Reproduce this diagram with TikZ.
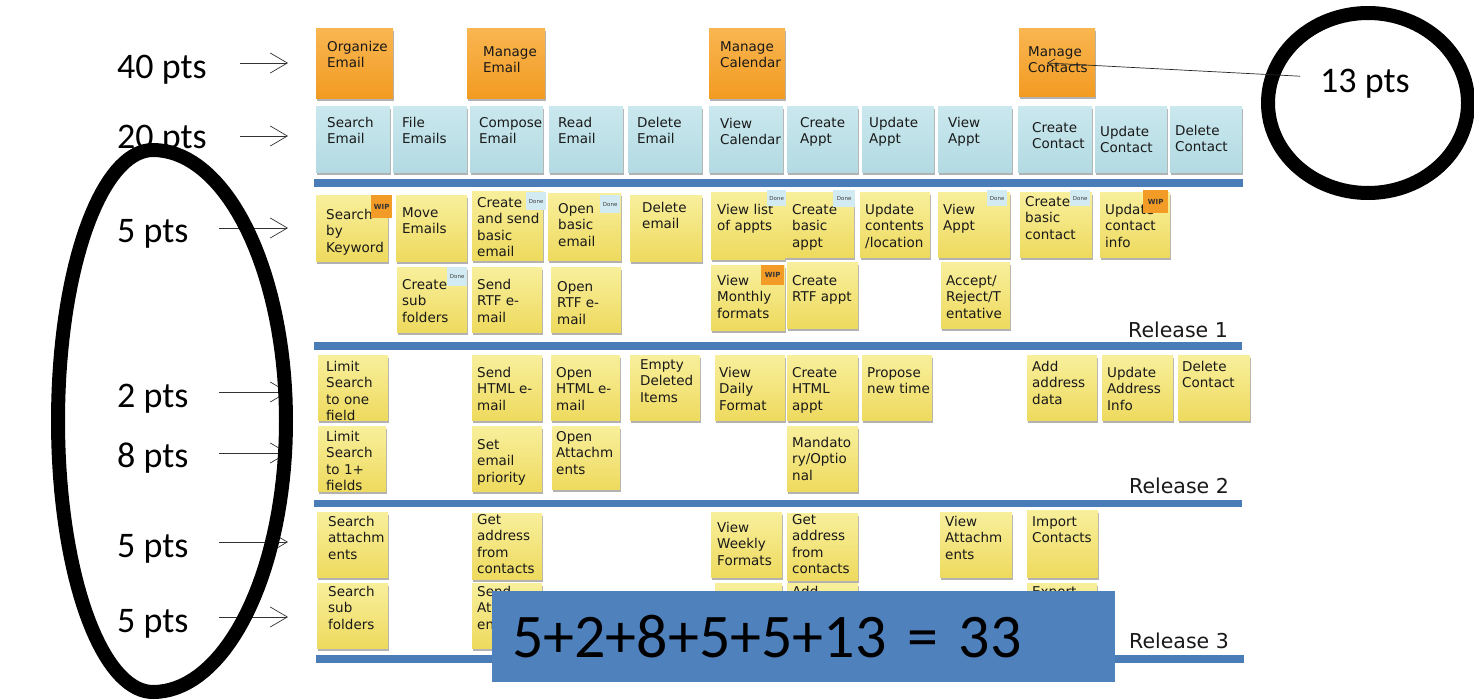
\documentclass[tikz,border=0pt]{standalone}
\usepackage{fontspec}
\newfontfamily\notefont{DejaVu Sans}
\newfontfamily\calfont{Carlito}
\usetikzlibrary{arrows.meta,shadows}
\definecolor{orgtop}{HTML}{F9B651}
\definecolor{orgbot}{HTML}{F29B22}
\definecolor{blutop}{HTML}{CAE8EE}
\definecolor{blubot}{HTML}{B3DAE2}
\definecolor{yeltop}{HTML}{F8EF9C}
\definecolor{yelbot}{HTML}{EEDA5E}
\definecolor{wipc}{HTML}{F29B26}
\definecolor{donec}{HTML}{D2EAF2}
\definecolor{barc}{HTML}{4A7CB8}
\definecolor{boxc}{HTML}{4F81BD}
\tikzset{
  notebase/.style={draw=none, inner sep=0pt, anchor=north west,
    drop shadow={shadow xshift=0.5pt, shadow yshift=-2.5pt, opacity=0.3, fill=black}},
  orangenote/.style={notebase, top color=orgtop, bottom color=orgbot},
  bluenote/.style={notebase, top color=blutop, bottom color=blubot},
  yellownote/.style={notebase, top color=yeltop, bottom color=yelbot},
  notetext/.style={font=\notefont\fontsize{13.5}{16.5}\selectfont, align=left,
    inner sep=0pt, anchor=north west, text=black!90},
  wiptag/.style={fill=wipc, inner sep=0pt, anchor=north west,
    font=\notefont\bfseries\fontsize{7}{7}\selectfont, text=black!80},
  donetag/.style={fill=donec, inner sep=0pt, anchor=north west,
    font=\notefont\fontsize{5.5}{5.5}\selectfont, text=black!75},
  relbar/.style={fill=barc, draw=none},
  rellabel/.style={font=\notefont\fontsize{20.5}{22}\selectfont, inner sep=0pt,
    anchor=base west, text=black!90},
  ptlabel/.style={font=\calfont\fontsize{36}{40}\selectfont, inner sep=0pt,
    anchor=base west, text=black},
  ptarrow/.style={draw=black!80, line width=0.7pt,
    -{Straight Barb[length=17pt, width=20pt, line width=0.7pt]}},
  ring/.style={draw=black, line width=14pt, line join=round},
  sumbox/.style={fill=boxc, draw=none, inner xsep=20pt, inner ysep=0pt, anchor=north west,
    text width=583pt, minimum height=91pt, align=left,
    font=\calfont\fontsize{62}{66}\selectfont, text=black},
}
% name, style, x1, y1, x2, y2, text x, text top y, text
\newcommand\snote[9]{%
  \node[#2, minimum width={#5-#3}, minimum height={#6-#4}] (#1) at (#3,#4) {};
  \node[notetext] (#1t) at (#7,#8) {#9};
}
% name, style, x1, y1, x2, y2, text
\newcommand\stagbox[7]{%
  \node[#2, minimum width={#5-#3}, minimum height={#6-#4}] (#1) at (#3,#4) {#7};
}
\begin{document}
\begin{tikzpicture}[x=1pt, y=-1pt]
\useasboundingbox (0,0) rectangle (1474,699);
\fill[white] (0,0) rectangle (1474,699);
\clip (0,0) rectangle (1474,699);

% ---------- top (orange) row ----------
\snote{oe}{orangenote}{316}{28}{393}{98}{327}{41}{Organize\\Email}
\snote{me}{orangenote}{467}{28}{545}{98}{483}{46}{Manage\\Email}
\snote{mca}{orangenote}{709}{28}{785}{98}{720}{41}{Manage\\Calendar}
\snote{mco}{orangenote}{1019}{28}{1095}{96}{1028}{46}{Manage\\Contacts}

% ---------- blue row ----------
\snote{b1}{bluenote}{316}{106}{390}{172}{327}{117}{Search\\Email}
\snote{b2}{bluenote}{393}{106}{467}{172}{402}{117}{File\\Emails}
\snote{b3}{bluenote}{470}{106}{543}{172}{479}{117}{Compose\\Email}
\snote{b4}{bluenote}{549}{106}{623}{172}{558}{117}{Read\\Email}
\snote{b5}{bluenote}{628}{106}{702}{172}{637}{117}{Delete\\Email}
\snote{b6}{bluenote}{709}{106}{783}{172}{720}{118}{View\\Calendar}
\snote{b7}{bluenote}{787}{106}{858}{172}{800}{117}{Create\\Appt}
\snote{b8}{bluenote}{862}{106}{934}{172}{869}{117}{Update\\Appt}
\snote{b9}{bluenote}{938}{106}{1012}{172}{948}{117}{View\\Appt}
\snote{b10}{bluenote}{1018}{106}{1092}{172}{1032}{122}{Create\\Contact}
\snote{b11}{bluenote}{1095}{106}{1167}{172}{1100}{126}{Update\\Contact}
\snote{b12}{bluenote}{1170}{106}{1242}{172}{1175}{125}{Delete\\Contact}

\fill[relbar] (314,179) rectangle (1243,187);

% ---------- release 1 ----------
\snote{y1}{yellownote}{316}{195}{388}{261}{326}{209}{Search\\by\\Keyword}
\snote{y2}{yellownote}{396}{195}{467}{261}{402}{207}{Move\\Emails}
\snote{y3}{yellownote}{472}{191}{543}{260}{477}{197}{Create\\and send\\basic\\email}
\snote{y4}{yellownote}{548}{193}{621}{260}{558}{203}{Open\\basic\\email}
\snote{y5}{yellownote}{630}{195}{702}{261}{642}{202}{Delete\\email}
\snote{y6}{yellownote}{711}{192}{785}{259}{717}{204}{View list\\of appts}
\snote{y7}{yellownote}{785}{192}{854}{257}{792}{204}{Create\\basic\\appt}
\snote{y8}{yellownote}{860}{192}{930}{257}{865}{204}{Update\\contents\\/location}
\snote{y9}{yellownote}{938}{192}{1010}{257}{943}{204}{View\\Appt}
\snote{y10}{yellownote}{1020}{192}{1092}{257}{1025}{196}{Create\\basic\\contact}
\snote{y11}{yellownote}{1100}{192}{1170}{257}{1105}{204}{Update\\contact\\info}
\stagbox{t1}{wiptag}{371}{195}{392}{218}{WIP}
\stagbox{t2}{donetag}{526}{192}{546}{210}{Done}
\stagbox{t3}{donetag}{600}{195}{620}{213}{Done}
\stagbox{t4}{donetag}{767}{190}{786}{206}{Done}
\stagbox{t5}{donetag}{833}{190}{855}{207}{Done}
\stagbox{t6}{donetag}{987}{190}{1007}{206}{Done}
\stagbox{t7}{donetag}{1070}{190}{1090}{206}{Done}
\stagbox{t8}{wiptag}{1143}{190}{1168}{213}{WIP}

\snote{y12}{yellownote}{397}{267}{467}{332}{402}{279}{Create\\sub\\folders}
\snote{y13}{yellownote}{472}{267}{542}{332}{477}{279}{Send\\RTF e-\\mail}
\snote{y14}{yellownote}{551}{267}{621}{332}{557}{281}{Open\\RTF e-\\mail}
\snote{y15}{yellownote}{711}{265}{785}{330}{717}{275}{View\\Monthly\\formats}
\snote{y16}{yellownote}{787}{262}{858}{328}{792}{275}{Create\\RTF appt}
\snote{y17}{yellownote}{941}{262}{1010}{328}{946}{275}{Accept/\\Reject/T\\entative}
\stagbox{t9}{donetag}{447}{267}{467}{286}{Done}
\stagbox{t10}{wiptag}{761}{265}{784}{285}{WIP}

\node[rellabel] (r1) at (1128,337) {Release 1};
\fill[relbar] (314,342) rectangle (1242,350);

% ---------- release 2 ----------
\snote{z1}{yellownote}{318}{355}{388}{420}{326}{361}{Limit\\Search\\to one\\field}
\snote{z2}{yellownote}{472}{355}{542}{420}{477}{367}{Send\\HTML e-\\mail}
\snote{z3}{yellownote}{551}{355}{620}{420}{556}{367}{Open\\HTML e-\\mail}
\snote{z4}{yellownote}{630}{355}{700}{420}{640}{359}{Empty\\Deleted\\Items}
\snote{z5}{yellownote}{715}{355}{785}{420}{719}{367}{View\\Daily\\Format}
\snote{z6}{yellownote}{787}{355}{858}{420}{792}{367}{Create\\HTML\\appt}
\snote{z7}{yellownote}{862}{355}{932}{420}{867}{367}{Propose\\new time}
\snote{z8}{yellownote}{1027}{355}{1097}{420}{1032}{361}{Add\\address\\data}
\snote{z9}{yellownote}{1102}{355}{1173}{420}{1107}{367}{Update\\Address\\Info}
\snote{z10}{yellownote}{1178}{355}{1250}{420}{1182}{361}{Delete\\Contact}

\snote{z11}{yellownote}{318}{426}{386}{491}{326}{431}{Limit\\Search\\to 1+\\fields}
\snote{z12}{yellownote}{472}{426}{542}{491}{477}{439}{Set\\email\\priority}
\snote{z13}{yellownote}{552}{426}{620}{489}{556}{431}{Open\\Attachm\\ents}
\snote{z14}{yellownote}{787}{426}{858}{491}{792}{437}{Mandato\\ry/Optio\\nal}

\node[rellabel] (r2) at (1129,493) {Release 2};
\fill[relbar] (314,500) rectangle (1242,507);

% ---------- release 3 ----------
\snote{w1}{yellownote}{317}{512}{388}{577}{328}{516}{Search\\attachm\\ents}
\snote{w2}{yellownote}{472}{513}{542}{579}{477}{514}{Get\\address\\from\\contacts}
\snote{w3}{yellownote}{711}{512}{782}{577}{717}{522}{View\\Weekly\\Formats}
\snote{w4}{yellownote}{787}{513}{858}{580}{792}{514}{Get\\address\\from\\contacts}
\snote{w5}{yellownote}{940}{512}{1012}{577}{945}{516}{View\\Attachm\\ents}
\snote{w6}{yellownote}{1027}{510}{1098}{577}{1032}{516}{Import\\Contacts}

\snote{w7}{yellownote}{317}{583}{388}{648}{328}{586}{Search\\sub\\folders}
\snote{w8}{yellownote}{472}{583}{542}{648}{477}{586}{Send\\Attachm\\ents}
\snote{w9}{yellownote}{715}{583}{782}{648}{717}{586}{}
\snote{w10}{yellownote}{787}{583}{858}{648}{792}{586}{Add}
\snote{w11}{yellownote}{1027}{583}{1097}{648}{1032}{586}{Export}

\node[rellabel] (r3) at (1129,648) {Release 3};
\fill[relbar] (316,655) rectangle (1244,663);

% ---------- point labels and arrows ----------
\node[ptlabel] (l40) at (117,78) {40 pts};
\node[ptlabel] (l20) at (117,148) {20 pts};
\node[ptlabel] (l5a) at (117,242) {5 pts};
\node[ptlabel] (l2) at (117,407) {2 pts};
\node[ptlabel] (l8) at (117,467) {8 pts};
\node[ptlabel] (l5b) at (117,557) {5 pts};
\node[ptlabel] (l5c) at (117,632) {5 pts};

\coordinate (s40) at (240,63);  \coordinate (e40) at (288,63);
\coordinate (s20) at (240,136); \coordinate (e20) at (288,136);
\coordinate (s5a) at (219,228); \coordinate (e5a) at (288,228);
\coordinate (s2) at (219,392);  \coordinate (e2) at (288,392);
\coordinate (s8) at (219,453);  \coordinate (e8) at (288,453);
\coordinate (s5b) at (219,542); \coordinate (e5b) at (288,542);
\coordinate (s5c) at (219,617); \coordinate (e5c) at (288,617);
\draw[ptarrow] (s40) -- (e40);
\draw[ptarrow] (s20) -- (e20);
\draw[ptarrow] (s5a) -- (e5a);
\draw[ptarrow] (s2) -- (e2);
\draw[ptarrow] (s8) -- (e8);
\draw[ptarrow] (s5b) -- (e5b);
\draw[ptarrow] (s5c) -- (e5c);

% left ring: two half-ellipses joined at top and bottom
\draw[ring] plot[domain=0:360, samples=145]
  ({153 + (cos(\x) > 0 ? 133 : 95)*cos(\x)}, {421 - 271*sin(\x)}) -- cycle;

% right ring with 13 pts
\draw[ring] (1368,103) ellipse [x radius=100, y radius=90];
\node[ptlabel] (l13) at (1320,92) {13 pts};
\coordinate (mcpt) at (1047,63);
\draw[draw=black!85, line width=0.7pt, -{Straight Barb[length=7pt, width=9pt, line width=0.7pt]}]
  ([xshift=-20pt, yshift=7pt]l13.west) -- (mcpt);

% sum box
\node[sumbox] (sum) at (492,591) {5+2+8+5+5+13 = 33};
\end{tikzpicture}
\end{document}
